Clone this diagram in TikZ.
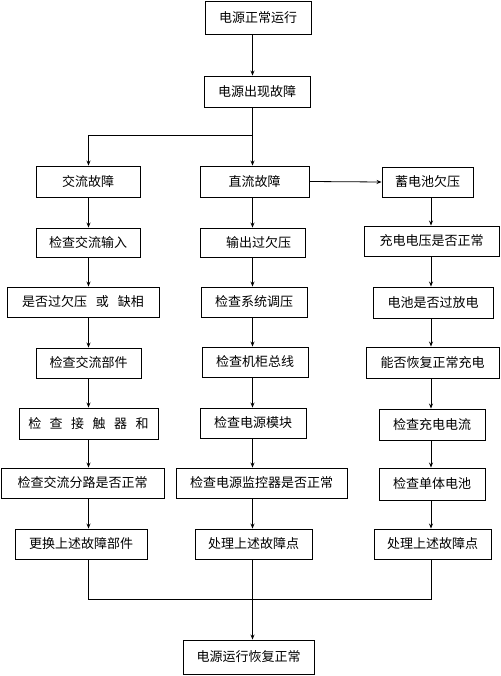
\documentclass[tikz,border=0pt]{standalone}
\usepackage{fontspec}
\setmainfont{Noto Sans CJK SC}
\usetikzlibrary{arrows.meta}
\begin{document}
\begin{tikzpicture}[x=1pt,y=-1pt,
  bx/.style={draw,line width=0.9pt,inner sep=0pt,font=\fontsize{13pt}{15pt}\selectfont},
  ln/.style={line width=0.8pt},
  arr/.style={line width=0.8pt,-{Stealth[length=5pt,width=4pt]}}]
\useasboundingbox (0,0) rectangle (500,676);
\fill[white] (0,0) rectangle (500,676);
\coordinate (cl) at (88.5,0);
\coordinate (cm) at (252.5,0);
\coordinate (cr) at (431,0);
% boxes
\node[bx,minimum width=106pt,minimum height=33pt] (n1) at (258,17.5) {电源正常运行};
\node[bx,minimum width=106pt,minimum height=31pt] (n2) at (257,91.5) {电源出现故障};
\node[bx,minimum width=104pt,minimum height=31pt] (a1) at (88,181.5) {交流故障};
\node[bx,minimum width=109pt,minimum height=31pt] (d1) at (254.5,181.5) {直流故障};
\node[bx,minimum width=91pt,minimum height=30pt] (b1) at (427.5,182) {蓄电池欠压};
\node[bx,minimum width=104pt,minimum height=29pt] (a2) at (88,242.5) {检查交流输入};
\node[bx,minimum width=105pt,minimum height=29pt] (d2) at (252.5,242.5) {\hspace{12pt}输出过欠压};
\node[bx,minimum width=135pt,minimum height=30pt] (b2) at (431.5,241) {充电电压是否正常};
\node[bx,minimum width=152pt,minimum height=30pt] (a3) at (83,302) {是否过欠压\hspace{9pt}或\hspace{9pt}缺相};
\node[bx,minimum width=106pt,minimum height=30pt] (d3) at (254,302) {检查系统调压};
\node[bx,minimum width=120pt,minimum height=31pt] (b3) at (433,302.5) {电池是否过放电};
\node[bx,minimum width=105pt,minimum height=30pt] (a4) at (88.5,363) {检查交流部件};
\node[bx,minimum width=106pt,minimum height=30pt] (d4) at (255,362) {检查机柜总线};
\node[bx,minimum width=133pt,minimum height=31pt] (b4) at (432.5,362.5) {能否恢复正常充电};
\node[bx,minimum width=139pt,minimum height=31pt] (a5) at (88.5,423.5) {检\hspace{8.5pt}查\hspace{8.5pt}接\hspace{8.5pt}触\hspace{8.5pt}器\hspace{8.5pt}和};
\node[bx,minimum width=106pt,minimum height=30pt] (d5) at (253,423) {检查电源模块};
\node[bx,minimum width=106pt,minimum height=31pt] (b5) at (432,424.5) {检查充电电流};
\node[bx,minimum width=163pt,minimum height=30pt] (a6) at (82.5,483) {检查交流分路是否正常};
\node[bx,minimum width=171pt,minimum height=30pt] (d6) at (261.5,483) {检查电源监控器是否正常};
\node[bx,minimum width=106pt,minimum height=32pt] (b6) at (432,484) {检查单体电池};
\node[bx,minimum width=132pt,minimum height=30pt] (a7) at (81,544) {更换上述故障部件};
\node[bx,minimum width=117pt,minimum height=30pt] (d7) at (253.5,544) {处理上述故障点};
\node[bx,minimum width=117pt,minimum height=30pt] (b7) at (432.5,544) {处理上述故障点};
\node[bx,minimum width=131pt,minimum height=34pt] (e) at (248.5,657) {电源运行恢复正常};
% top connectors
\coordinate (j1) at (252.5,135);
\coordinate (j2) at (252.5,599);
\draw[arr] (n1.south -| cm) -- (n2.north -| cm);
\draw[ln] (n2.south -| cm) -- (j1);
\draw[arr] (j1) -| (a1.north -| cl);
\draw[arr] (j1) -- (d1.north -| cm);
\draw[arr] (d1.east) -- (b1.west);
% left column
\foreach \u/\v in {a1/a2,a2/a3,a3/a4,a4/a5,a5/a6,a6/a7}
  \draw[arr] (\u.south -| cl) -- (\v.north -| cl);
% middle column
\foreach \u/\v in {d1/d2,d2/d3,d3/d4,d4/d5,d5/d6,d6/d7}
  \draw[arr] (\u.south -| cm) -- (\v.north -| cm);
% right column
\foreach \u/\v in {b1/b2,b2/b3,b3/b4,b4/b5,b5/b6,b6/b7}
  \draw[arr] (\u.south -| cr) -- (\v.north -| cr);
% merge
\draw[ln] (a7.south -| cl) -- (j2 -| cl) -- (j2 -| cr) -- (b7.south -| cr);
\draw[ln] (d7.south -| cm) -- (j2);
\draw[arr] (j2) -- (e.north -| cm);
\end{tikzpicture}
\end{document}
